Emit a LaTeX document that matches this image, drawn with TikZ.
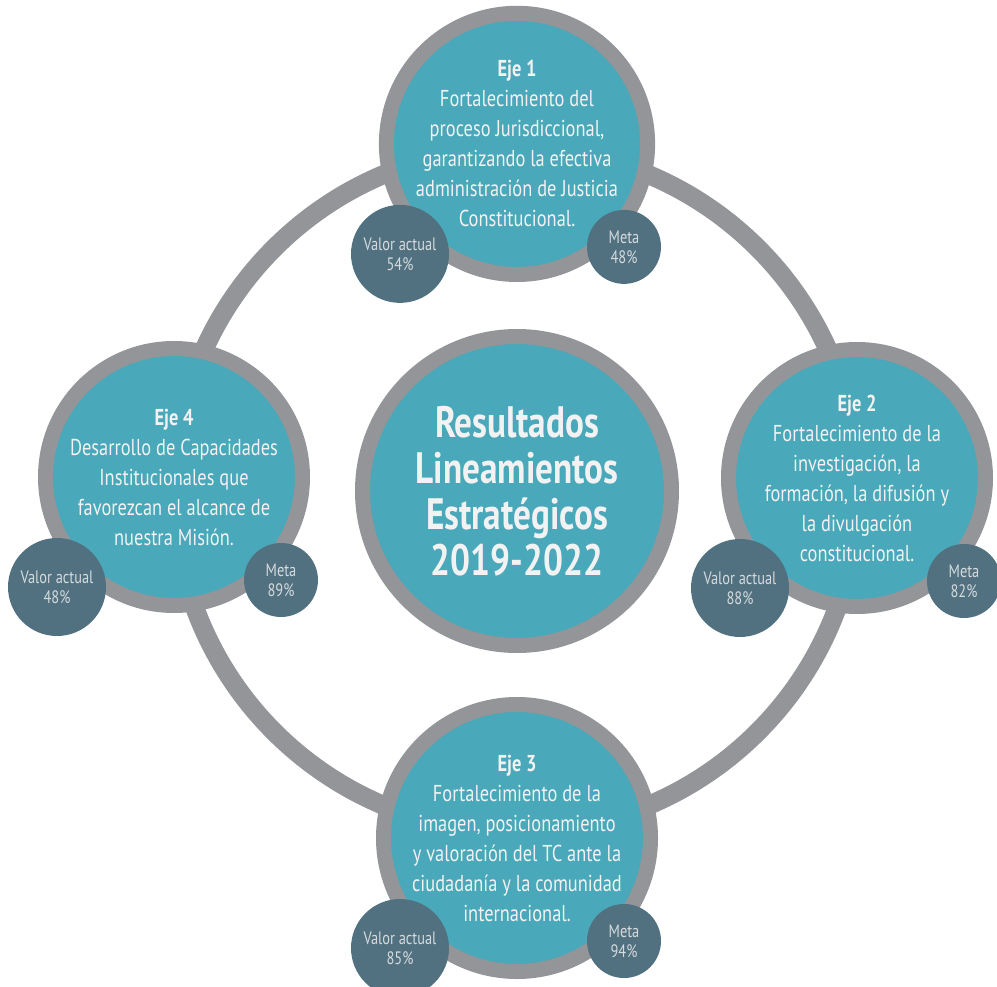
\documentclass[tikz,border=0pt]{standalone}
\usepackage{fontspec}
\setmainfont{PT Sans}[FakeStretch=0.8]
\usepackage{tikz}
\usetikzlibrary{positioning}
\definecolor{turquesa}{HTML}{49A8B9}
\definecolor{grisanillo}{HTML}{939598}
\definecolor{pizarra}{HTML}{517180}
\definecolor{textoclaro}{HTML}{F2F2F2}
\definecolor{textogris}{HTML}{D5DADD}

\begin{document}
\begin{tikzpicture}[x=1pt, y=1pt,
  eje/.style={circle, fill=turquesa, draw=grisanillo, line width=15pt, minimum size=257pt, inner sep=0pt, align=center, text=textoclaro, font=\fontsize{23}{30}\selectfont},
  centro/.style={eje, minimum size=309pt, font=\fontsize{44}{46}\selectfont\bfseries},
  valor/.style={circle, fill=pizarra, minimum size=98pt, inner sep=0pt, align=center, text=textogris, font=\fontsize{18}{20}\selectfont},
  meta/.style={valor, minimum size=74pt},
  anillo/.style={draw=grisanillo, line width=19pt}]
\useasboundingbox (0,0) rectangle (997,-987);

\coordinate (O) at (516,-490);
\draw[anillo] (O) circle (342pt);

\node[centro] (C) at (517,-491) {Resultados\\Lineamientos\\Estratégicos\\2019-2022};

\node[eje, above=47pt of C] (E1) {\textbf{Eje 1}\\Fortalecimiento del\\proceso Jurisdiccional,\\garantizando la efectiva\\administración de Justicia\\Constitucional.};
\node[eje, right=42pt of C, yshift=13pt] (E2) {\textbf{Eje 2}\\Fortalecimiento de la\\investigación, la\\formación, la difusión y\\la divulgación\\constitucional.};
\node[eje, below=44pt of C] (E3) {\textbf{Eje 3}\\Fortalecimiento de la\\imagen, posicionamiento\\y valoración del TC ante la\\ciudadanía y la comunidad\\internacional.};
\node[eje, left=45pt of C, yshift=14pt] (E4) {\textbf{Eje 4}\\Desarrollo de Capacidades\\Institucionales que\\favorezcan el alcance de\\nuestra Misión.};

\node[valor] (V1) at ([shift={(-117,-110)}]E1.center) {Valor actual\\54\%};
\node[meta] (M1) at ([shift={(107,-103)}]E1.center) {Meta\\48\%};
\node[valor] (V2) at ([shift={(-117,-110)}]E2.center) {Valor actual\\88\%};
\node[meta] (M2) at ([shift={(107,-103)}]E2.center) {Meta\\82\%};
\node[valor] (V3) at ([shift={(-117,-110)}]E3.center) {Valor actual\\85\%};
\node[meta] (M3) at ([shift={(107,-103)}]E3.center) {Meta\\94\%};
\node[valor] (V4) at ([shift={(-117,-110)}]E4.center) {Valor actual\\48\%};
\node[meta] (M4) at ([shift={(107,-103)}]E4.center) {Meta\\89\%};
\end{tikzpicture}
\end{document}
